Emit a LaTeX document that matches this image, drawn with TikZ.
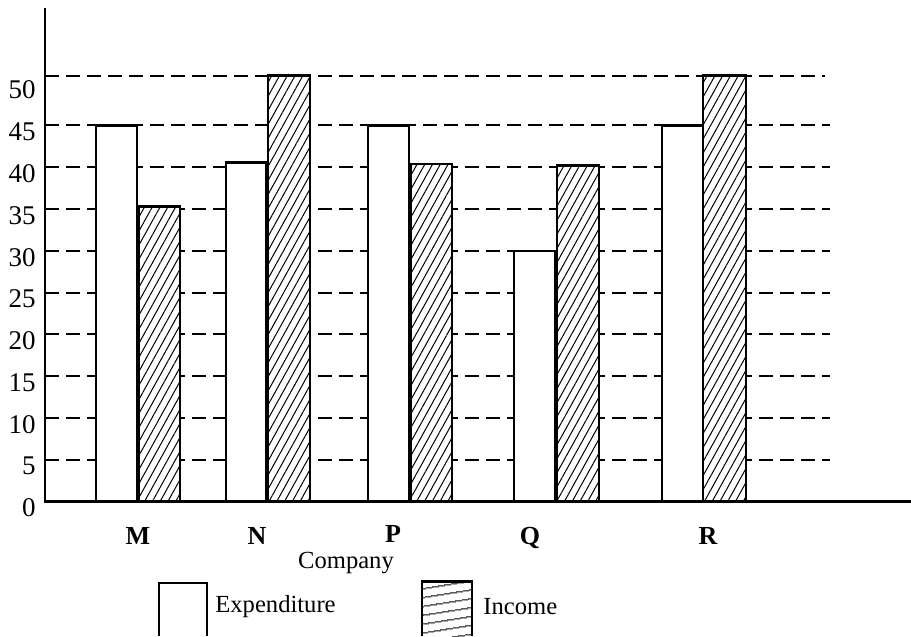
\documentclass[tikz,border=0pt]{standalone}
\usepackage{fontspec}
\setmainfont{Liberation Serif}
\usetikzlibrary{patterns.meta}

\begin{document}
\begin{tikzpicture}[x=0.5pt,y=4.18pt,
	every node/.style={font=\fontsize{12.3}{14}\selectfont},
	grid line/.style={dash pattern=on 7pt off 3.5pt,line width=1pt},
	exp bar/.style={draw,fill=white,line width=1.3pt},
	inc bar/.style={draw,fill=white,line width=1.3pt,
		postaction={pattern={Lines[angle=61,distance=3.4pt,line width=0.5pt]}}},
	tick lbl/.style={anchor=east,inner sep=0pt,font=\fontsize{13.5}{15}\selectfont},
	comp lbl/.style={font=\fontsize{13}{15}\selectfont\bfseries}]
	
	\useasboundingbox (0,-16.07) rectangle (911,60.01);
	
	% grid
	\foreach \v in {5,10,...,45}
	\draw[grid line] (45,\v) -- (830,\v);
	\draw[grid line] (45,50.9) -- (825,50.9);
	
	% axes
	\draw[line width=1.2pt] (45,59.05) -- (45,0) -- (911,0);
	\foreach \v in {0,5,...,50}
	\node[tick lbl] (y\v) at (36,\v-0.75) {\v};
	
	% bars
	\foreach \a/\b/\h in {96/137/45,226/266/40.6,368/409/45,514/555/30,662/703/45}
	\draw[exp bar] (\a,0) rectangle (\b,\h);
	\foreach \a/\b/\h in {139/180/35.3,268/310/51,411/452/40.4,557/599/40.2,703/746/51}
	\draw[inc bar] (\a,0) rectangle (\b,\h);
	
	\node[comp lbl] (cm) at (138,-4.1) {M};
	\node[comp lbl] (cn) at (257,-4.1) {N};
	\node[comp lbl] (cp) at (393,-3.9) {P};
	\node[comp lbl] (cq) at (530,-4.3) {Q};
	\node[comp lbl] (cr) at (708,-4.1) {R};
	\node (company) at (346,-7.35) {Company};
	
	% legend
	\draw[line width=1.3pt] (159,-16.07) |- (207,-9.75) -- (207,-16.07);
	\node[anchor=west,inner sep=0pt] (exp) at (215,-12.6) {Expenditure};
	\fill[white] (422,-16.07) rectangle (472,-9.55);
	\path[pattern={Lines[angle=9,distance=4pt,line width=0.5pt]}] (422,-16.07) rectangle (472,-9.55);
	\draw[line width=1.3pt] (422,-16.07) |- (472,-9.55) -- (472,-16.07);
	\node[anchor=west,inner sep=0pt] (inc) at (483,-12.6) {Income};
\end{tikzpicture}
\end{document}
